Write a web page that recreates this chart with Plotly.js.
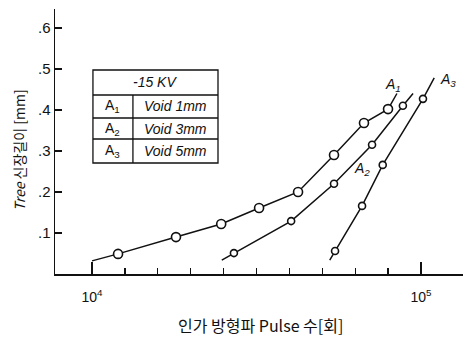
<!DOCTYPE html>
<html><head><meta charset="utf-8">
<script src="https://cdn.plot.ly/plotly-3.0.1.min.js"></script>
<style>html,body{margin:0;padding:0;background:#fff}#chart{width:467px;height:340px}</style>
</head><body><div id="chart"></div>
<script>
// Data
var a1X = [12000, 18000, 24700, 32200, 42300, 54400, 67100, 79400];
var a1Y = [0.049, 0.090, 0.122, 0.161, 0.200, 0.290, 0.368, 0.402];
var a1LineX = [10000, 84500];   // fitted line ends
var a1LineY = [0.032, 0.440];

var a2X = [27000, 40300, 54400, 71000, 88100];
var a2Y = [0.051, 0.129, 0.220, 0.315, 0.410];
var a2LineX = [24800, 94600];
var a2LineY = [0.034, 0.440];

var a3X = [54800, 66200, 76500, 101400];
var a3Y = [0.056, 0.166, 0.266, 0.427];
var a3LineX = [52800, 109700];
var a3LineY = [0.034, 0.478];

var yTickVals = [0.1, 0.2, 0.3, 0.4, 0.5, 0.6];
var yTickText = ['.1', '.2', '.3', '.4', '.5', '.6'];
var xTickVals = [1e4, 1e5];
var xTickText = ['10<sup>4</sup>', '10<sup>5</sup>'];
var xMinorTicks = [];
for (var k = 1; k <= 9; k++) xMinorTicks.push(Math.pow(10, 4 + k / 10));

var tableHeader = '-15 KV';
var tableNames = ['A<sub>1</sub>', 'A<sub>2</sub>', 'A<sub>3</sub>'];
var tableDesc = ['Void 1mm', 'Void 3mm', 'Void 5mm'];
var yTitle = '<i>Tree</i> 신장길이 [mm]';
var xTitle = '인가 방형파 Pulse 수[회]';

function withEnds(xs, ys, lx, ly) {
  return {x: [lx[0]].concat(xs, [lx[1]]), y: [ly[0]].concat(ys, [ly[1]])};
}
var series = [
  {d: withEnds(a1X, a1Y, a1LineX, a1LineY), px: a1X, py: a1Y, ms: 9},
  {d: withEnds(a2X, a2Y, a2LineX, a2LineY), px: a2X, py: a2Y, ms: 7},
  {d: withEnds(a3X, a3Y, a3LineX, a3LineY), px: a3X, py: a3Y, ms: 7}
];
var traces = [];
series.forEach(function (s) {
  traces.push({x: s.d.x, y: s.d.y, mode: 'lines', line: {color: '#111', width: 1.5}, hoverinfo: 'skip'});
  traces.push({x: s.px, y: s.py, mode: 'markers',
    marker: {symbol: 'circle', size: s.ms, color: '#fff', line: {color: '#111', width: 1.6}}});
});

// table geometry (paper coords)
var tx0 = 0.093, tx1 = 0.3995, tdiv = 0.191;
var rows = [0.7698, 0.6755, 0.5887, 0.5094, 0.4189];
var shapes = [{type: 'rect', xref: 'paper', yref: 'paper', x0: tx0, x1: tx1, y0: rows[4], y1: rows[0],
  line: {color: '#111', width: 1.3}}];
for (var r = 1; r <= 3; r++) {
  shapes.push({type: 'line', xref: 'paper', yref: 'paper', x0: tx0, x1: tx1, y0: rows[r], y1: rows[r], line: {color: '#111', width: 1.3}});
}
shapes.push({type: 'line', xref: 'paper', yref: 'paper', x0: tdiv, x1: tdiv, y0: rows[4], y1: rows[1], line: {color: '#111', width: 1.3}});

var fnt = {family: 'Liberation Sans, DejaVu Sans', size: 14, color: '#111'};
var ann = [];
function A(o) { o.showarrow = false; o.xanchor = o.xanchor || 'center'; o.yanchor = o.yanchor || 'middle'; ann.push(o); }
A({xref: 'paper', yref: 'paper', x: (tx0 + tx1) / 2, y: (rows[0] + rows[1]) / 2, text: '<i>' + tableHeader + '</i>', font: fnt});
for (var i = 0; i < 3; i++) {
  var yc = (rows[i + 1] + rows[i + 2]) / 2;
  A({xref: 'paper', yref: 'paper', x: (tx0 + tdiv) / 2, y: yc, text: tableNames[i], font: fnt});
  A({xref: 'paper', yref: 'paper', x: (tdiv + tx1) / 2, y: yc, text: '<i>' + tableDesc[i] + '</i>', font: fnt});
}
var lblF = {family: 'Liberation Sans, DejaVu Sans', size: 14, color: '#111'};
A({xref: 'x', yref: 'y', x: Math.log10(82200), y: 0.461, text: '<i>A<sub>1</sub></i>', font: lblF});
A({xref: 'x', yref: 'y', x: Math.log10(66200), y: 0.256, text: '<i>A<sub>2</sub></i>', font: lblF});
A({xref: 'x', yref: 'y', x: Math.log10(121000), y: 0.474, text: '<i>A<sub>3</sub></i>', font: lblF});
A({xref: 'paper', yref: 'paper', x: (19 - 55) / 408, y: (274 - 150) / 265,
  text: yTitle, textangle: -90,
  font: {family: 'Noto Sans CJK KR, Noto Sans', size: 14, color: '#111'}});
A({xref: 'paper', yref: 'paper', x: (260 - 55) / 408, y: (274 - 325) / 265,
  text: xTitle,
  font: {family: 'Noto Sans CJK KR, Noto Sans', size: 16, color: '#111'}});

var layout = {
  width: 467, height: 340,
  margin: {l: 55, r: 4, t: 9, b: 66},
  paper_bgcolor: '#fff', plot_bgcolor: '#fff',
  showlegend: false,
  xaxis: {type: 'log', range: [3.8875, 5.1277], showgrid: false, zeroline: false,
    showline: true, linecolor: '#111', linewidth: 1.5,
    tickmode: 'array', tickvals: xTickVals, ticktext: xTickText,
    ticks: 'inside', ticklen: 12, tickwidth: 1.5, tickcolor: '#111',
    ticklabelstandoff: 10,
    tickfont: {family: 'Liberation Sans, DejaVu Sans', size: 14, color: '#111'},
    minor: {tickmode: 'array', tickvals: xMinorTicks, ticks: 'inside', ticklen: 6, tickwidth: 1.3, tickcolor: '#111', showgrid: false}},
  yaxis: {range: [0, 0.646], showgrid: false, zeroline: false,
    showline: true, linecolor: '#111', linewidth: 1.5,
    tickmode: 'array', tickvals: yTickVals, ticktext: yTickText,
    ticks: 'inside', ticklen: 7, tickwidth: 1.5, tickcolor: '#111',
    tickfont: {family: 'Liberation Sans, DejaVu Sans', size: 15, color: '#111'}},
  shapes: shapes,
  annotations: ann
};
Plotly.newPlot('chart', traces, layout, {staticPlot: true});
</script></body></html>
